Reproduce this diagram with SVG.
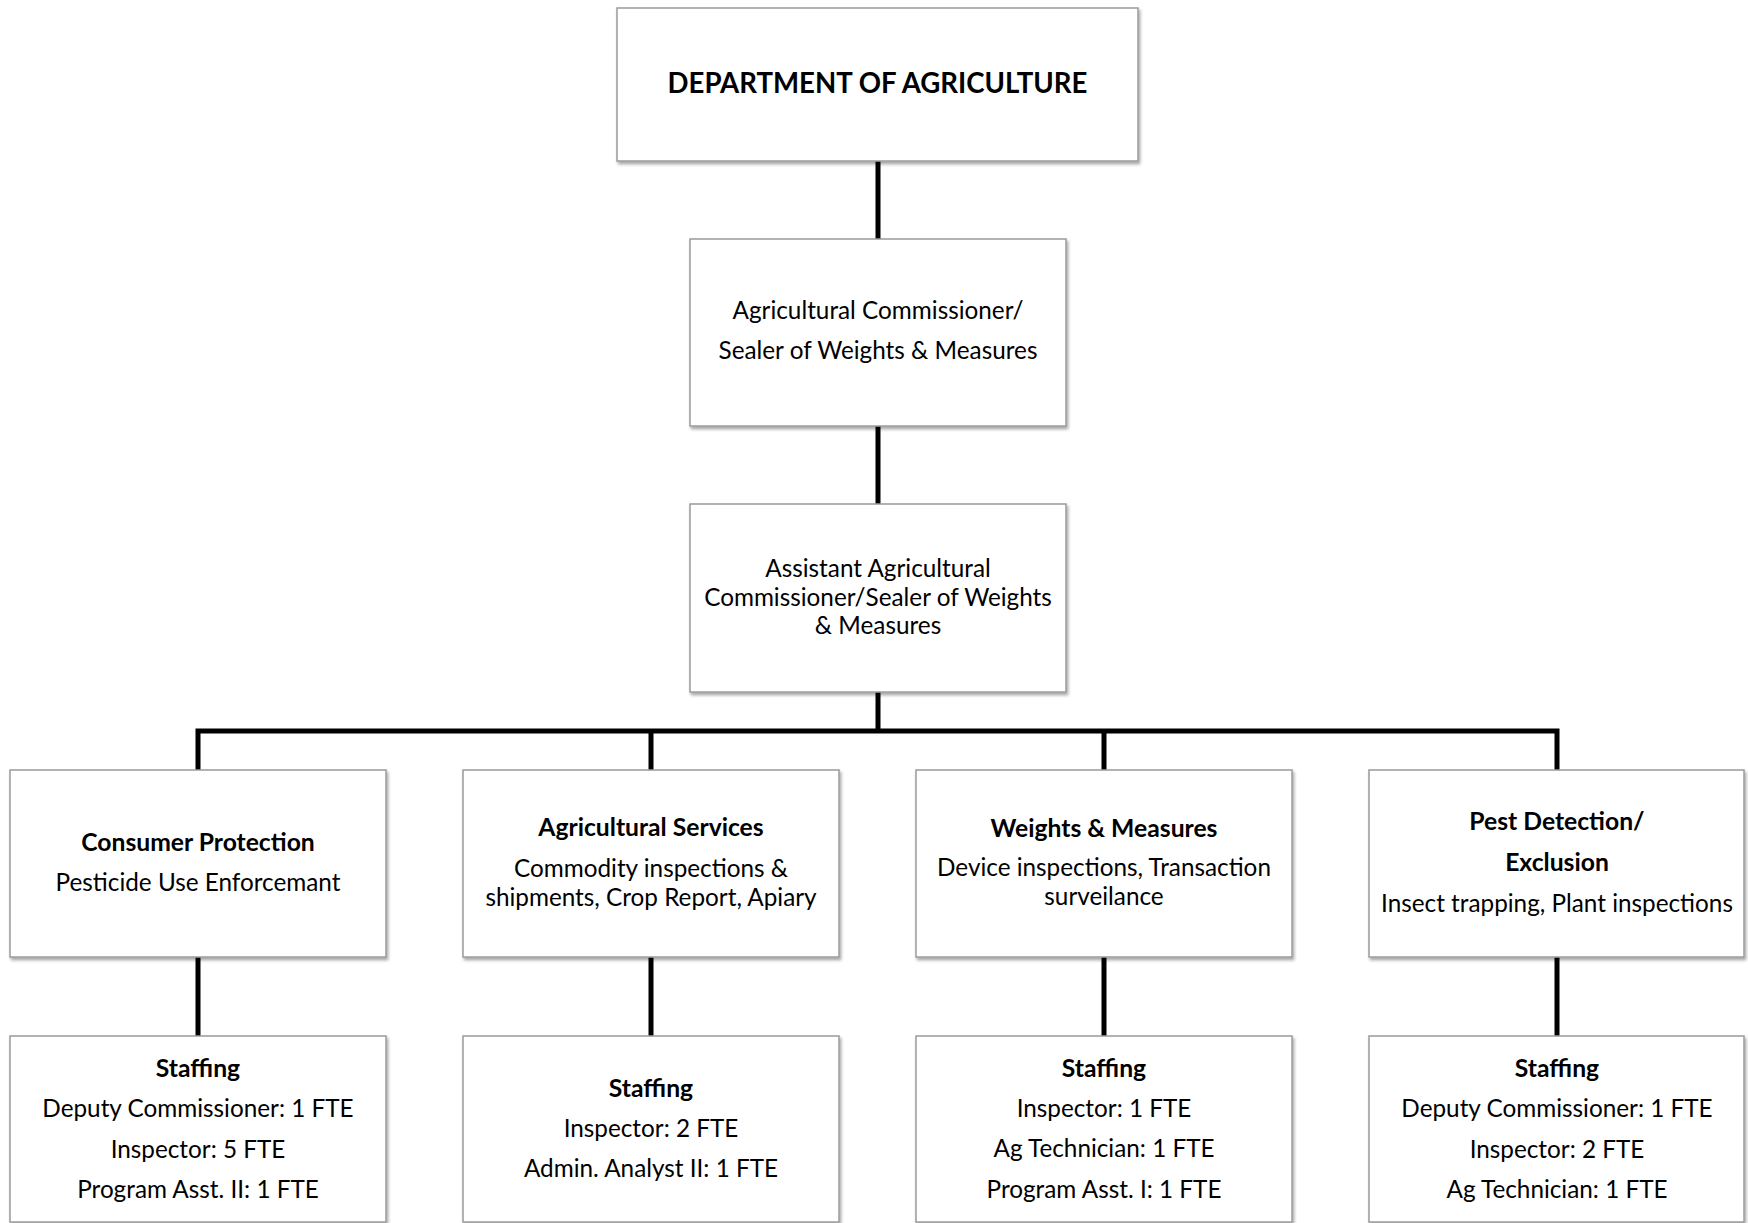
<svg xmlns="http://www.w3.org/2000/svg" width="1748" height="1223" viewBox="0 0 1748 1223">
<defs>
<filter id="sh" x="-5%" y="-5%" width="110%" height="115%">
<feDropShadow dx="1.5" dy="2.5" stdDeviation="1.5" flood-color="#000" flood-opacity="0.35"/>
</filter>
<style>
.box{fill:#fff;stroke:#9b9b9b;stroke-width:1.5;filter:url(#sh)}
.t{font-family:Lato,"Liberation Sans",sans-serif;font-size:24.3px;fill:#000;text-anchor:middle}
.b{font-weight:bold;font-size:24.7px}
.title{font-family:Lato,"Liberation Sans",sans-serif;font-size:27.6px;font-weight:bold;fill:#000;text-anchor:middle}
.c{stroke:#000;stroke-width:5;fill:none}
</style>
</defs>
<rect width="1748" height="1223" fill="#fff"/>
<g id="connectors">
<line class="c" x1="878" y1="161" x2="878" y2="239"/>
<line class="c" x1="878" y1="426" x2="878" y2="504"/>
<line class="c" x1="878" y1="692" x2="878" y2="731"/>
<polyline class="c" points="198,770 198,731 1557,731 1557,770" stroke-linejoin="miter"/>
<line class="c" x1="651" y1="731" x2="651" y2="770"/>
<line class="c" x1="1104" y1="731" x2="1104" y2="770"/>
<line class="c" x1="198" y1="957" x2="198" y2="1036"/>
<line class="c" x1="651" y1="957" x2="651" y2="1036"/>
<line class="c" x1="1104" y1="957" x2="1104" y2="1036"/>
<line class="c" x1="1557" y1="957" x2="1557" y2="1036"/>
</g>
<g id="dept">
<rect class="box" x="617" y="8" width="521" height="153"/>
<text class="title" x="877.5" y="93">DEPARTMENT OF AGRICULTURE</text>
</g>
<g id="commissioner">
<rect class="box" x="690" y="239" width="376" height="187"/>
<text class="t" x="878" y="319">Agricultural Commissioner/</text>
<text class="t" x="878" y="359">Sealer of Weights &amp; Measures</text>
</g>
<g id="assistant">
<rect class="box" x="690" y="504" width="376" height="188"/>
<text class="t" x="878" y="577">Assistant Agricultural</text>
<text class="t" x="878" y="606">Commissioner/Sealer of Weights</text>
<text class="t" x="878" y="634">&amp; Measures</text>
</g>
<g id="consumer">
<rect class="box" x="10" y="770" width="376" height="187"/>
<text class="t b" x="198" y="851">Consumer Protection</text>
<text class="t" x="198" y="891">Pesticide Use Enforcemant</text>
</g>
<g id="agservices">
<rect class="box" x="463" y="770" width="376" height="187"/>
<text class="t b" x="651" y="836">Agricultural Services</text>
<text class="t" x="651" y="877">Commodity inspections &amp;</text>
<text class="t" x="651" y="906">shipments, Crop Report, Apiary</text>
</g>
<g id="weights">
<rect class="box" x="916" y="770" width="376" height="187"/>
<text class="t b" x="1104" y="837">Weights &amp; Measures</text>
<text class="t" x="1104" y="876">Device inspections, Transaction</text>
<text class="t" x="1104" y="905">surveilance</text>
</g>
<g id="pest">
<rect class="box" x="1369" y="770" width="375" height="187"/>
<text class="t b" x="1557" y="830">Pest Detection/</text>
<text class="t b" x="1557" y="871">Exclusion</text>
<text class="t" x="1557" y="912">Insect trapping, Plant inspections</text>
</g>
<g id="staff-consumer">
<rect class="box" x="10" y="1036" width="376" height="186"/>
<text class="t b" x="198" y="1077">Staffing</text>
<text class="t" x="198" y="1117">Deputy Commissioner: 1 FTE</text>
<text class="t" x="198" y="1158">Inspector: 5 FTE</text>
<text class="t" x="198" y="1198">Program Asst. II: 1 FTE</text>
</g>
<g id="staff-agservices">
<rect class="box" x="463" y="1036" width="376" height="186"/>
<text class="t b" x="651" y="1097">Staffing</text>
<text class="t" x="651" y="1137">Inspector: 2 FTE</text>
<text class="t" x="651" y="1177">Admin. Analyst II: 1 FTE</text>
</g>
<g id="staff-weights">
<rect class="box" x="916" y="1036" width="376" height="186"/>
<text class="t b" x="1104" y="1077">Staffing</text>
<text class="t" x="1104" y="1117">Inspector: 1 FTE</text>
<text class="t" x="1104" y="1157">Ag Technician: 1 FTE</text>
<text class="t" x="1104" y="1198">Program Asst. I: 1 FTE</text>
</g>
<g id="staff-pest">
<rect class="box" x="1369" y="1036" width="375" height="186"/>
<text class="t b" x="1557" y="1077">Staffing</text>
<text class="t" x="1557" y="1117">Deputy Commissioner: 1 FTE</text>
<text class="t" x="1557" y="1158">Inspector: 2 FTE</text>
<text class="t" x="1557" y="1198">Ag Technician: 1 FTE</text>
</g>
</svg>
